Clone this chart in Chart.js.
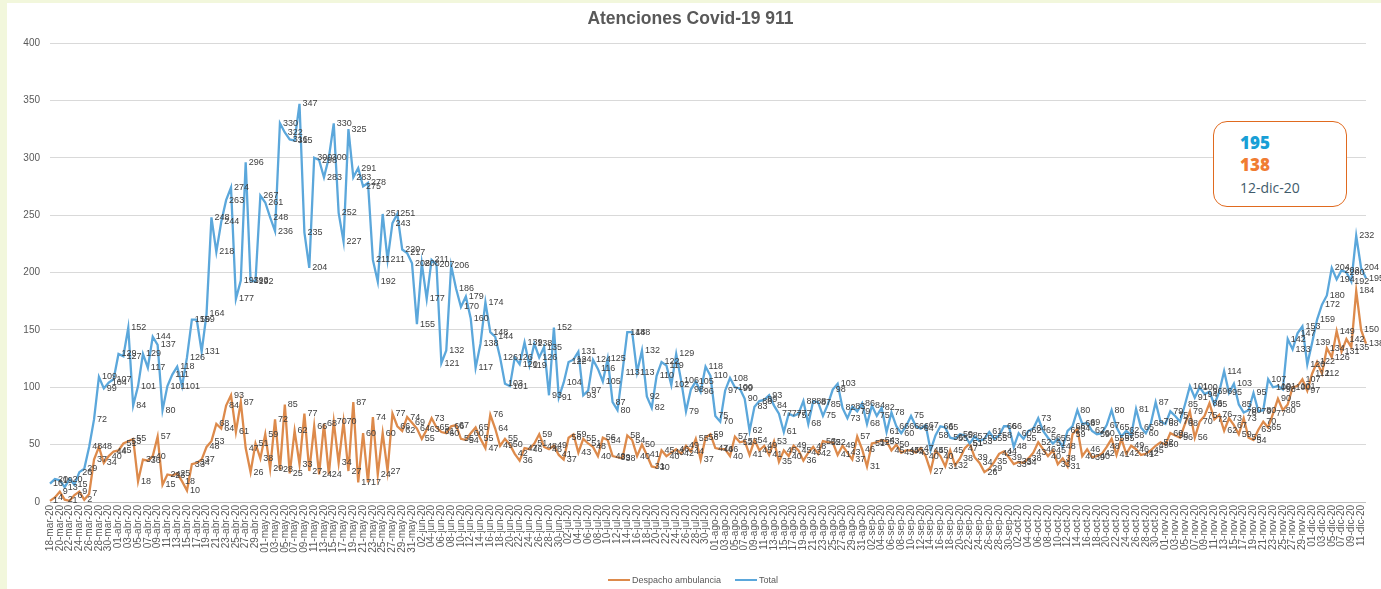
<!DOCTYPE html>
<html lang="es">
<head>
    <meta charset="UTF-8">
    <title>Atenciones Covid-19 911</title>
    <script src="https://cdn.jsdelivr.net/npm/chart.js@4"></script>
    <style>
        html, body {
            margin: 0;
            padding: 0;
        }
        body {
            width: 1381px;
            height: 589px;
            background-color: #f2f7dc;
            position: relative;
            overflow: hidden;
            font-family: 'Liberation Sans', Arial, sans-serif;
        }
        .panel {
            position: absolute;
            left: 7px;
            top: 3px;
            right: 0;
            bottom: 0;
            background-color: #fff;
        }
        .chart-box {
            position: absolute;
            left: 0;
            top: 0;
            width: 1381px;
            height: 589px;
        }
        .title {
            position: absolute;
            left: 0;
            width: 1381px;
            top: 8px;
            text-align: center;
            font-size: 17.5px;
            font-weight: bold;
            color: #595959;
        }
        .legend {
            position: absolute;
            top: 575px;
            left: 608px;
            font-size: 9px;
            color: #595959;
            display: flex;
            align-items: center;
            white-space: nowrap;
        }
        .legend .sw {
            display: inline-block;
            width: 22px;
            height: 2px;
            margin-right: 2px;
        }
        .callout {
            position: absolute;
            left: 1213px;
            top: 121px;
            width: 134px;
            height: 86px;
            box-sizing: border-box;
            border: 1.5px solid #e06a1f;
            border-radius: 14px;
            background: #fff;
            font-family: 'Open Sans', Arial, sans-serif;
        }
        .callout div {
            position: absolute;
            left: 26px;
            line-height: 1;
        }
        .callout .v1 { top: 12px; font-size: 17px; font-weight: 800; color: #199fd6; }
        .callout .v2 { top: 34px; font-size: 17px; font-weight: 800; color: #f07c32; }
        .callout .fecha { top: 59px; font-size: 14px; color: #3f5b6b; }
    </style>
</head>
<body>
    <div class="panel"></div>
    <div class="chart-box"><canvas id="chart"></canvas></div>
    <div class="title">Atenciones Covid-19 911</div>
    <div class="legend">
        <span class="sw" style="background:#dd8a4b"></span><span>Despacho ambulancia</span>
        <span class="sw" style="background:#5ba7db; margin-left:14px"></span><span>Total</span>
    </div>
    <div class="callout">
        <div class="v1">195</div>
        <div class="v2">138</div>
        <div class="fecha">12-dic-20</div>
    </div>

    <script>
        // fechas: del 18-mar-20 al 12-dic-20, un dato por día
        const meses = ['ene', 'feb', 'mar', 'abr', 'may', 'jun', 'jul', 'ago', 'sep', 'oct', 'nov', 'dic'];
        const fechaInicio = [2020, 2, 18];
        const numDias = 270;

        const total = [
            16, 20, 19, 13, 20, 15, 26, 29, 48, 72,
            109, 99, 104, 107, 129, 127, 152, 84, 101, 129,
            117, 144, 137, 80, 101, 111, 118, 101, 126, 159,
            159, 131, 164, 248, 218, 244, 263, 274, 177, 193,
            296, 193, 192, 267, 261, 248, 236, 330, 322, 316,
            315, 347, 235, 204, 300, 298, 283, 300, 330, 252,
            227, 325, 283, 291, 275, 278, 211, 192, 251, 211,
            243, 251, 220, 217, 208, 155, 208, 177, 211, 207,
            121, 132, 206, 186, 170, 179, 160, 117, 138, 174,
            148, 144, 126, 103, 101, 126, 120, 139, 119, 138,
            126, 135, 93, 152, 91, 104, 122, 124, 131, 93,
            97, 124, 116, 105, 125, 87, 80, 113, 148, 148,
            113, 132, 92, 82, 110, 122, 119, 102, 129, 106,
            79, 98, 105, 96, 118, 110, 75, 70, 97, 108,
            100, 99, 90, 62, 83, 88, 89, 93, 84, 77,
            61, 77, 75, 77, 88, 68, 88, 87, 75, 85,
            98, 103, 82, 73, 83, 79, 86, 68, 84, 75,
            82, 61, 78, 66, 60, 66, 75, 66, 64, 67,
            45, 58, 66, 65, 56, 55, 59, 58, 51, 57,
            53, 55, 61, 55, 58, 66, 66, 48, 60, 55,
            62, 64, 73, 62, 56, 51, 55, 48, 62, 66,
            80, 68, 69, 62, 59, 60, 67, 80, 65, 57,
            62, 58, 81, 65, 60, 68, 87, 70, 68, 79,
            75, 70, 85, 101, 91, 100, 94, 96, 85, 96,
            114, 95, 103, 85, 78, 80, 95, 79, 80, 107,
            100, 101, 98, 142, 133, 147, 153, 120, 139, 159,
            172, 180, 204, 194, 202, 200, 192, 232, 204, 195
        ];

        const despacho = [
            1, 4, 9, 2, 1, 6, 9, 2, 7, 37,
            48, 34, 40, 44, 45, 51, 53, 55, 18, 37,
            36, 40, 57, 15, 24, 23, 25, 18, 10, 33,
            34, 37, 48, 53, 68, 64, 84, 93, 61, 87,
            47, 26, 51, 38, 59, 29, 72, 28, 85, 25,
            62, 33, 77, 27, 66, 24, 68, 24, 70, 34,
            70, 27, 87, 17, 60, 17, 74, 24, 60, 27,
            77, 66, 62, 74, 69, 64, 55, 63, 73, 65,
            61, 60, 66, 67, 55, 54, 60, 65, 55, 47,
            76, 64, 49, 55, 50, 42, 36, 47, 46, 51,
            59, 48, 46, 49, 41, 37, 56, 59, 43, 55,
            51, 48, 40, 56, 54, 40, 39, 38, 58, 54,
            40, 50, 41, 31, 30, 45, 40, 43, 46, 42,
            49, 44, 55, 37, 56, 59, 47, 46, 46, 40,
            57, 52, 53, 41, 54, 45, 49, 41, 53, 35,
            45, 40, 49, 45, 36, 43, 48, 42, 53, 52,
            52, 41, 49, 43, 37, 57, 46, 31, 51, 52,
            54, 53, 45, 50, 43, 45, 45, 43, 47, 40,
            27, 45, 40, 31, 45, 32, 38, 47, 51, 39,
            34, 26, 29, 35, 42, 44, 39, 33, 35, 34,
            38, 43, 52, 46, 40, 45, 33, 38, 31, 59,
            64, 40, 46, 39, 40, 42, 48, 55, 41, 55,
            42, 49, 46, 41, 42, 45, 49, 52, 50, 60,
            58, 56, 68, 79, 56, 70, 75, 86, 72, 76,
            62, 73, 67, 59, 73, 56, 54, 63, 70, 65,
            77, 90, 80, 85, 100, 101, 107, 97, 112, 122,
            112, 134, 126, 149, 131, 142, 135, 184, 150, 138
        ];

        const yTicks = [0, 50, 100, 150, 200, 250, 300, 350, 400];

        // etiquetas tipo "18-mar-20"
        const fechas = [];
        for (let i = 0; i < numDias; i++) {
            const d = new Date(fechaInicio[0], fechaInicio[1], fechaInicio[2] + i);
            const dd = String(d.getDate()).padStart(2, '0');
            fechas.push(`${dd}-${meses[d.getMonth()]}-${String(d.getFullYear()).slice(2)}`);
        }

        // valor de cada punto a la derecha del punto, como en Excel
        const valueLabels = {
            id: 'valueLabels',
            afterDatasetsDraw(chart) {
                const ctx = chart.ctx;
                ctx.save();
                ctx.font = '9px "Liberation Sans", Arial, sans-serif';
                ctx.fillStyle = '#404040';
                ctx.textAlign = 'left';
                ctx.textBaseline = 'middle';
                chart.data.datasets.forEach((ds, di) => {
                    chart.getDatasetMeta(di).data.forEach((pt, i) => {
                        ctx.fillText(ds.data[i], pt.x + 3, pt.y);
                    });
                });
                ctx.restore();
            }
        };

        const ctx = document.getElementById('chart').getContext('2d');
        new Chart(ctx, {
            type: 'line',
            data: {
                labels: fechas,
                datasets: [{
                    label: 'Despacho ambulancia',
                    data: despacho,
                    borderColor: '#dd8a4b',
                    borderWidth: 2.3,
                    pointRadius: 0,
                    tension: 0,
                    order: 1
                }, {
                    label: 'Total',
                    data: total,
                    borderColor: '#5ba7db',
                    borderWidth: 2.3,
                    pointRadius: 0,
                    tension: 0,
                    order: 0
                }]
            },
            options: {
                responsive: true,
                maintainAspectRatio: false,
                animation: false,
                layout: { padding: { top: 43, left: 5, right: 3, bottom: 27 } },
                plugins: {
                    legend: { display: false },
                    title: { display: false },
                    tooltip: { enabled: false }
                },
                scales: {
                    x: {
                        grid: { display: false, drawTicks: false },
                        border: { display: false },
                        ticks: {
                            autoSkip: false,
                            minRotation: 90,
                            maxRotation: 90,
                            padding: 3,
                            color: '#595959',
                            font: { size: 10, family: '"Liberation Sans", Arial, sans-serif' },
                            callback: function (v, i) {
                                return i % 2 === 0 ? this.getLabelForValue(v) : '';
                            }
                        },
                        afterFit: s => { s.height = 60; }
                    },
                    y: {
                        min: yTicks[0],
                        max: yTicks[yTicks.length - 1],
                        afterBuildTicks: s => { s.ticks = yTicks.map(v => ({ value: v })); },
                        ticks: {
                            padding: 10,
                            color: '#595959',
                            font: { size: 10, family: '"Liberation Sans", Arial, sans-serif' }
                        },
                        grid: {
                            drawTicks: false,
                            color: c => c.tick && c.tick.value === 0 ? '#bfbfbf' : '#d9d9d9'
                        },
                        border: { display: false },
                        afterFit: s => { s.width = 45; }
                    }
                }
            },
            plugins: [valueLabels]
        });
    </script>
</body>
</html>
